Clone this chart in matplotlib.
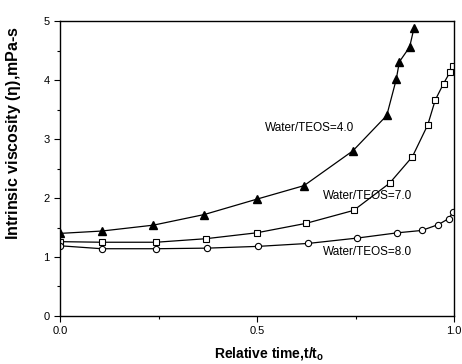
import matplotlib
matplotlib.use("Agg")
import matplotlib.pyplot as plt
from matplotlib.ticker import MultipleLocator

# Data
t_40 = [0.0, 0.106, 0.237, 0.366, 0.499, 0.619, 0.743, 0.829, 0.853, 0.861, 0.887, 0.898]
v_40 = [1.40, 1.44, 1.54, 1.72, 1.98, 2.21, 2.80, 3.40, 4.01, 4.31, 4.56, 4.88]

t_70 = [0.0, 0.106, 0.244, 0.370, 0.499, 0.624, 0.745, 0.836, 0.894, 0.933, 0.952, 0.973, 0.990, 0.998]
v_70 = [1.26, 1.25, 1.25, 1.31, 1.41, 1.57, 1.79, 2.25, 2.70, 3.24, 3.66, 3.94, 4.14, 4.24]

t_80 = [0.0, 0.106, 0.244, 0.373, 0.503, 0.630, 0.753, 0.856, 0.918, 0.960, 0.986, 0.998]
v_80 = [1.19, 1.14, 1.14, 1.15, 1.18, 1.23, 1.32, 1.41, 1.45, 1.55, 1.65, 1.77]

labels = ["Water/TEOS=4.0", "Water/TEOS=7.0", "Water/TEOS=8.0"]
label_pos = [(0.52, 3.18), (0.668, 2.04), (0.668, 1.09)]

plt.rcParams['font.family'] = ['Liberation Sans', 'DejaVu Sans']

fig = plt.figure(figsize=(4.62, 3.64), dpi=100)
ax = fig.add_axes([0.13, 0.132, 0.853, 0.81])

ax.plot(t_40, v_40, color='black', lw=0.9, marker='^', ms=5.5, mfc='black', mec='black')
ax.plot(t_70, v_70, color='black', lw=0.9, marker='s', ms=4, mfc='white', mec='black', mew=0.8)
ax.plot(t_80, v_80, color='black', lw=0.9, marker='o', ms=4.5, mfc='white', mec='black', mew=0.8)

for lab, (x, y) in zip(labels, label_pos):
    ax.text(x, y, lab, fontsize=8.5, va='center', ha='left')

ax.set_xlim(0, 1.0)
ax.set_ylim(0, 5)
ax.xaxis.set_major_locator(MultipleLocator(0.5))
ax.xaxis.set_minor_locator(MultipleLocator(0.25))
ax.yaxis.set_major_locator(MultipleLocator(1))
ax.yaxis.set_minor_locator(MultipleLocator(0.5))
ax.xaxis.set_major_formatter(plt.FuncFormatter(lambda v, p: f"{v:.1f}"))
ax.tick_params(which='both', direction='out', top=False, right=False, labelsize=8)
ax.tick_params(which='major', length=4, width=0.8)
ax.tick_params(which='minor', length=2.5, width=0.8)
for s in ax.spines.values():
    s.set_linewidth(1.0)

ax.set_xlabel("Relative time,t/t$_\\mathregular{o}$", fontsize=10, fontweight='bold')
ax.xaxis.set_label_coords(0.53, -0.098)
ax.set_ylabel("Intrinsic viscosity ($\\mathregular{\\eta}$),mPa-s", fontsize=11.5, fontweight='bold')
ax.yaxis.set_label_coords(-0.095, 0.62)

fig.savefig("out.png", dpi=100)
